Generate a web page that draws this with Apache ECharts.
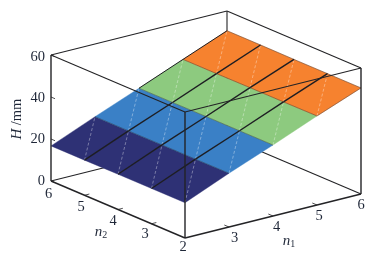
<!DOCTYPE html>
<html>
<head>
<meta charset="utf-8">
<style>html,body{margin:0;padding:0;background:#fff}#c{width:382px;height:261px}</style>
<script src="https://cdn.jsdelivr.net/npm/echarts@6/dist/echarts.min.js"></script>
</head>
<body>
<div id="c"></div>
<script>
// ---- data ----
const n1Values = [2, 3, 4, 5, 6];
const n2Values = [2, 3, 4, 5, 6];
const hTicks = [0, 20, 40, 60];
const n1Ticks = [3, 4, 5, 6];
const n2Ticks = [2, 3, 4, 5, 6];
// H by n2 (rows) and n1 (columns)
const heightN2_2 = [16.8, 25.6, 33.8, 42.4, 50.5];
const heightN2_3 = [16.8, 25.5, 33.8, 42.3, 50.5];
const heightN2_4 = [16.8, 25.5, 33.8, 42.3, 50.5];
const heightN2_5 = [16.7, 25.4, 33.7, 42.2, 50.6];
const heightN2_6 = [16.7, 25.4, 33.7, 42.2, 50.6];
const heightRows = [heightN2_2, heightN2_3, heightN2_4, heightN2_5, heightN2_6];

// ---- styles / view ----
const bandColors = ['#2e3175', '#3a80c6', '#8dca7f', '#f6822f'];
const inkColor = '#232326';
const textColor = '#1f2738';
const fontFamily = '"Liberation Serif", serif';
const W = 382, H = 261;
// orthographic view: screen units per data unit
const view = {
  x0: 185, y0: 238,
  n1: [44, -11],
  n2: [-33.5, -14.25],
  h: -2.1
};
const project = (n1, n2, h) => [
  view.x0 + (n1 - 2) * view.n1[0] + (n2 - 2) * view.n2[0],
  view.y0 + (n1 - 2) * view.n1[1] + (n2 - 2) * view.n2[1] + h * view.h
];
const n1Min = n1Values[0], n1Max = n1Values[n1Values.length - 1];
const n2Min = n2Values[0], n2Max = n2Values[n2Values.length - 1];
const hMin = hTicks[0], hMax = hTicks[hTicks.length - 1];

// ---- derived segment tables ----
const backEdges = [
  [n1Min, n2Max, hMin, n1Max, n2Max, hMin],
  [n1Max, n2Max, hMin, n1Max, n2Min, hMin],
  [n1Max, n2Max, hMin, n1Max, n2Max, hMax]
];
const topEdges = [
  [n1Min, n2Max, hMax, n1Max, n2Max, hMax],
  [n1Max, n2Max, hMax, n1Max, n2Min, hMax],
  [n1Min, n2Max, hMax, n1Min, n2Min, hMax],
  [n1Min, n2Min, hMax, n1Max, n2Min, hMax]
];
const frontEdges = [
  [n1Min, n2Max, hMin, n1Min, n2Max, hMax],
  [n1Min, n2Min, hMin, n1Min, n2Min, hMax],
  [n1Max, n2Min, hMin, n1Max, n2Min, hMax],
  [n1Min, n2Max, hMin, n1Min, n2Min, hMin],
  [n1Min, n2Min, hMin, n1Max, n2Min, hMin]
];
const tickSegs = [];
hTicks.forEach(v => tickSegs.push([n1Min, n2Max, v, n1Min, n2Max - 0.12, v]));
n2Ticks.slice(1, -1).forEach(v => tickSegs.push([n1Min, v, hMin, n1Min + 0.11, v, hMin]));
n1Ticks.slice(0, -1).forEach(v => tickSegs.push([v, n2Min, hMin, v, n2Min + 0.14, hMin]));

const cells = [], longLines = [], crossLines = [], diagonals = [];
for (let j = 0; j < n2Values.length - 1; j++) {
  for (let i = 0; i < n1Values.length - 1; i++) {
    const a = n1Values[i], b = n1Values[i + 1], c = n2Values[j], d = n2Values[j + 1];
    cells.push([a, b, c, d, heightRows[j][i], heightRows[j][i + 1], heightRows[j + 1][i + 1], heightRows[j + 1][i], i]);
    diagonals.push([a, c, heightRows[j][i], b, d, heightRows[j + 1][i + 1]]);
  }
}
for (let j = 1; j < n2Values.length - 1; j++) {
  for (let i = 0; i < n1Values.length - 1; i++) {
    longLines.push([n1Values[i], n2Values[j], heightRows[j][i], n1Values[i + 1], n2Values[j], heightRows[j][i + 1]]);
  }
}
for (let i = 1; i < n1Values.length; i++) {
  for (let j = 0; j < n2Values.length - 1; j++) {
    crossLines.push([n1Values[i], n2Values[j], heightRows[j][i], n1Values[i], n2Values[j + 1], heightRows[j + 1][i]]);
  }
}
const backRim = [], frontRim = [];
for (let i = 2; i < n1Values.length - 1; i++) {
  backRim.push([n1Values[i], n2Max, heightRows[4][i], n1Values[i + 1], n2Max, heightRows[4][i + 1]]);
}
for (let i = 3; i < n1Values.length - 1; i++) {
  frontRim.push([n1Values[i], n2Min, heightRows[0][i], n1Values[i + 1], n2Min, heightRows[0][i + 1]]);
}

// ---- series helpers ----
const segSeries = (name, data, style, z) => ({
  type: 'custom', name, coordinateSystem: 'cartesian2d', clip: false, silent: true, z, data,
  encode: { x: 0, y: 1 },
  renderItem: (params, api) => {
    const p = api.coord(project(api.value(0), api.value(1), api.value(2)));
    const q = api.coord(project(api.value(3), api.value(4), api.value(5)));
    return { type: 'line', shape: { x1: p[0], y1: p[1], x2: q[0], y2: q[1] },
             style: Object.assign({ fill: null }, style) };
  }
});

const cellSeries = {
  type: 'custom', name: 'surface', coordinateSystem: 'cartesian2d', clip: false, silent: true, z: 3, data: cells,
  encode: { x: 0, y: 2 },
  renderItem: (params, api) => {
    const a = api.value(0), b = api.value(1), c = api.value(2), d = api.value(3);
    const pts = [[a, c, api.value(4)], [b, c, api.value(5)], [b, d, api.value(6)], [a, d, api.value(7)]]
      .map(t => api.coord(project(t[0], t[1], t[2])));
    const col = bandColors[api.value(8)];
    return { type: 'polygon', shape: { points: pts }, style: { fill: col, stroke: col, lineWidth: 0.4 } };
  }
};

// tick labels: [text, n1, n2, h, dx, dy]
const n1LabelShift = { 3: [5.7, 10.7], 4: [3.7, 11], 5: [2, 11], 6: [0, 11] };
const n2LabelShift = { 6: [-2.3, 13], 5: [-3.5, 11.5], 4: [-5, 11.2], 3: [-6.5, 10.2], 2: [-2, 8.7] };
const labelData = [];
hTicks.forEach(v => labelData.push([String(v), n1Min, n2Max, v, -6, v === hMax ? 2 : (v === 40 ? 1 : 0), 'right']));
n1Ticks.forEach(v => labelData.push([String(v), v, n2Min, hMin, n1LabelShift[v][0], n1LabelShift[v][1], 'center']));
n2Ticks.forEach(v => labelData.push([String(v), n1Min, v, hMin, n2LabelShift[v][0], n2LabelShift[v][1], 'center']));

const labelSeries = {
  type: 'custom', name: 'tick labels', coordinateSystem: 'cartesian2d', clip: false, silent: true, z: 8,
  data: labelData,
  renderItem: (params, api) => {
    const d = labelData[params.dataIndex];
    const p = api.coord(project(d[1], d[2], d[3]));
    return { type: 'text', x: p[0] + d[4], y: p[1] + d[5],
      style: { text: d[0], fill: textColor, font: '14.5px ' + fontFamily, align: d[6], verticalAlign: 'middle' } };
  }
};

const titleData = [
  ['{i|H} {r|/mm}', 17, 119, Math.PI / 2],
  ['{i|n}{s|2}', 101, 232, 0],
  ['{i|n}{s|1}', 289, 241.5, 0]
];
const titleSeries = {
  type: 'custom', name: 'axis titles', coordinateSystem: 'cartesian2d', clip: false, silent: true, z: 8,
  data: titleData.map((t, i) => [t[1], t[2], i]),
  encode: { x: 0, y: 1 },
  renderItem: (params, api) => {
    const t = titleData[params.dataIndex];
    const p = api.coord([t[1], t[2]]);
    return { type: 'text', x: p[0], y: p[1], rotation: t[3],
      style: { text: t[0], fill: textColor, align: 'center', verticalAlign: 'middle',
        rich: {
          i: { font: 'italic 15px ' + fontFamily, fill: textColor, lineHeight: 16, verticalAlign: 'middle' },
          r: { font: '14.5px ' + fontFamily, fill: textColor, lineHeight: 16, verticalAlign: 'middle' },
          s: { font: '10px ' + fontFamily, fill: textColor, lineHeight: 16, padding: [6, 0, 0, 0] }
        } } };
  }
};

const chart = echarts.init(document.getElementById('c'), null, { renderer: 'canvas', width: W, height: H });
chart.setOption({
  animation: false,
  backgroundColor: '#ffffff',
  grid: { left: 0, right: 0, top: 0, bottom: 0 },
  xAxis: { type: 'value', min: 0, max: W, show: false },
  yAxis: { type: 'value', min: 0, max: H, inverse: true, show: false },
  series: [
    segSeries('back edges', backEdges, { stroke: inkColor, lineWidth: 1.1 }, 2),
    cellSeries,
    segSeries('diagonals', diagonals, { stroke: 'rgba(255,255,255,0.45)', lineWidth: 0.8, lineDash: [3, 2] }, 4),
    segSeries('front rim', frontRim, { stroke: 'rgba(30,30,40,0.55)', lineWidth: 0.7 }, 4),
    segSeries('back rim', backRim, { stroke: '#1d1d22', lineWidth: 1 }, 4),
    segSeries('cross lines', crossLines, { stroke: 'rgba(25,25,35,0.55)', lineWidth: 0.7 }, 4),
    segSeries('long lines', longLines, { stroke: '#1d1d22', lineWidth: 1.4 }, 5),
    segSeries('top edges', topEdges, { stroke: inkColor, lineWidth: 1.1 }, 6),
    segSeries('front edges', frontEdges, { stroke: inkColor, lineWidth: 1.4 }, 6),
    segSeries('ticks', tickSegs, { stroke: inkColor, lineWidth: 0.8 }, 6),
    labelSeries,
    titleSeries
  ]
});
</script>
</body>
</html>
